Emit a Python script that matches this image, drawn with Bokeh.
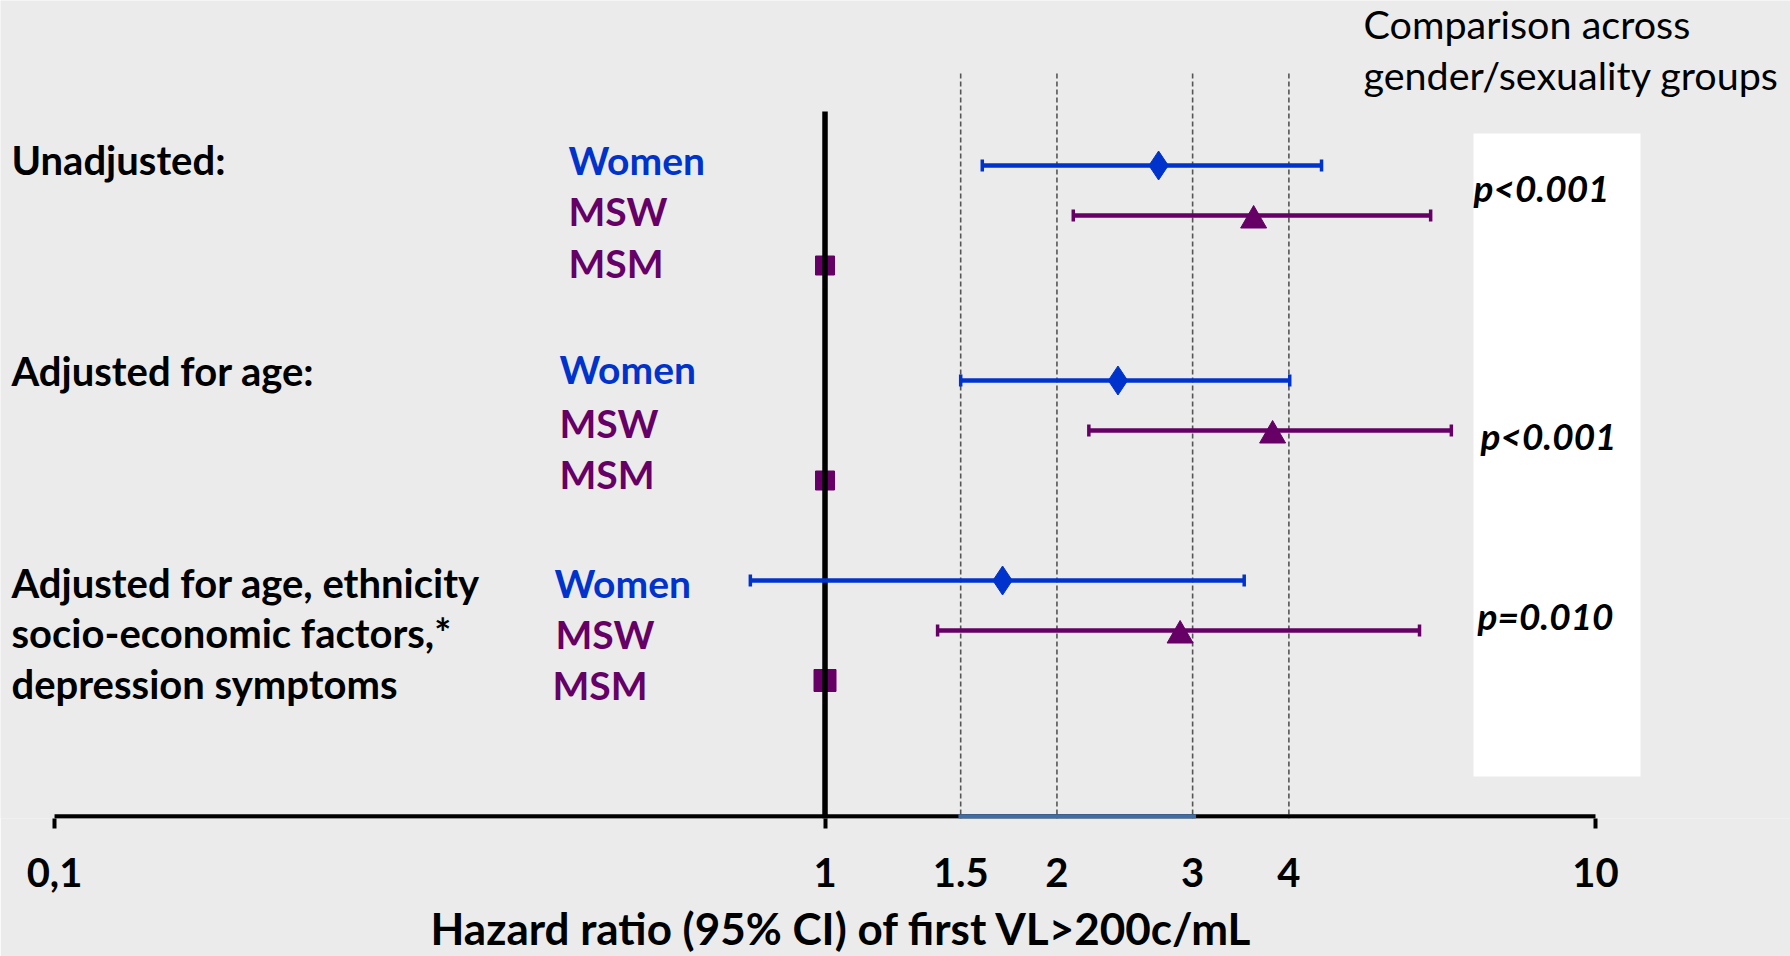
import numpy as np
from bokeh.plotting import figure
from bokeh.models import Range1d, FixedTicker, Label, BoxAnnotation, Title
from bokeh.embed import file_html
from bokeh.resources import INLINE

# ---------------- data ----------------
model_labels = ["Unadjusted:", "Adjusted for age:",
                "Adjusted for age, ethnicity", "socio-economic  factors,*", "depression symptoms"]
group_names = ["Women", "MSW", "MSM"]
women_hr = [2.71, 2.40, 1.70]
women_lo = [1.60, 1.50, 0.80]
women_hi = [4.41, 4.01, 3.50]
msw_hr = [3.60, 3.81, 2.89]
msw_lo = [2.10, 2.20, 1.40]
msw_hi = [6.11, 6.50, 5.91]
msm_hr = [1.0, 1.0, 1.0]          # reference group
p_values = ["p<0.001", "p<0.001", "p=0.010"]
tick_values = [0.1, 1, 1.5, 2, 3, 4, 10]
tick_labels = ["0,1", "1", "1.5", "2", "3", "4", "10"]
end_ticks = [0.1, 1, 10]
reference_lines = [1.5, 2, 3, 4]
highlight = [1.49, 3.03]
header = ["Comparison across", "gender/sexuality groups"]
x_title = "Hazard ratio (95% CI) of first VL>200c/mL"

# ---------------- layout (row positions, styles) ----------------
women_y = [0.0, 4.3, 8.3]
msw_y = [1.0, 5.3, 9.3]
msm_y = [2.0, 6.3, 10.3]
Y_BOTTOM, Y_TOP = 13.06, -3.3
BG = "#ebebeb"
BLUE = "#0033cc"
PURPLE = "#660066"

p = figure(frame_width=1790, frame_height=818, x_axis_type="log",
           x_range=Range1d(0.08509, 17.91), y_range=Range1d(Y_BOTTOM, Y_TOP),
           y_axis_location=None, toolbar_location=None, output_backend="svg",
           min_border=0, min_border_bottom=138,
           background_fill_color=BG, border_fill_color=BG, outline_line_color=None)
p.grid.visible = False

# white panel behind p-values
p.add_layout(BoxAnnotation(left=1473, right=1640, left_units="screen", right_units="screen",
                           top=-0.64, bottom=12.22, fill_color="white", fill_alpha=1.0,
                           line_color=None, level="underlay"))

# dashed reference lines
p.segment(x0=reference_lines, y0=-1.84, x1=reference_lines, y1=Y_BOTTOM,
          line_color="#555555", line_width=1.6, line_dash="5 3")

# reference squares (MSM)
p.scatter(msm_hr, msm_y, marker="square", size=[19, 19, 22], color=PURPLE)

# line of no effect
p.segment(x0=[1], y0=[-1.08], x1=[1], y1=[Y_BOTTOM], line_color="black", line_width=5.5)

# baseline of the axis and highlighted interval
p.segment(x0=[tick_values[0]], y0=[13.02], x1=[tick_values[-1]], y1=[13.02],
          line_color="black", line_width=4.5)
p.segment(x0=[highlight[0]], y0=[13.02], x1=[highlight[1]], y1=[13.02],
          line_color="#3f6ea6", line_width=4.5)

# confidence intervals
p.segment(x0=women_lo, y0=women_y, x1=women_hi, y1=women_y, line_color=BLUE, line_width=4.5)
p.scatter(women_lo + women_hi, women_y + women_y, marker="dash", angle=np.pi / 2,
          size=12, line_width=3.5, line_color=BLUE)
p.segment(x0=msw_lo, y0=msw_y, x1=msw_hi, y1=msw_y, line_color=PURPLE, line_width=4.5)
p.scatter(msw_lo + msw_hi, msw_y + msw_y, marker="dash", angle=np.pi / 2,
          size=12, line_width=3.5, line_color=PURPLE)

# point estimates
p.scatter(women_hr, women_y, marker="diamond", size=29, color=BLUE)
p.scatter(msw_hr, [y + 0.1 for y in msw_y], marker="triangle", size=26, color=PURPLE)

# x axis
ax = p.xaxis[0]
ax.ticker = FixedTicker(ticks=tick_values, minor_ticks=end_ticks)
ax.major_label_overrides = dict(zip(tick_values, tick_labels))
ax.axis_line_color = None
ax.major_tick_line_color = None
ax.major_tick_out = 0
ax.major_tick_in = 0
ax.minor_tick_line_color = "black"
ax.minor_tick_line_width = 4
ax.minor_tick_out = 10
ax.minor_tick_in = 0
ax.major_label_standoff = 29
ax.major_label_text_font = "Lato"
ax.major_label_text_font_style = "bold"
ax.major_label_text_font_size = "40px"
ax.major_label_text_color = "black"

# axis title below the axis, left-offset so it sits under the 0.1–10 span as in the original
p.add_layout(Title(text=x_title, align="left", offset=430, standoff=20,
                   text_font="Lato", text_font_style="bold", text_font_size="44px",
                   text_color="black"), "below")

# text labels
def add_label(text, x, y, size, color="black", style="bold", align="left"):
    p.add_layout(Label(x=x, y=y, x_units="screen", y_units="data", text=text,
                       text_font="Lato", text_font_style=style, text_font_size=size,
                       text_color=color, text_baseline="alphabetic", text_align=align))

model_y = [-0.12, 4.10, 8.34, 9.34, 10.37]
for t, y in zip(model_labels, model_y):
    add_label(t, 11, y, "40px")

name_x = [568, 568, 568, 559, 559, 559, 554, 555, 552]
name_y = [-0.11, 0.90, 1.94, 4.075, 5.14, 6.16, 8.34, 9.36, 10.38]
for i in range(9):
    name = group_names[i % 3]
    add_label(name, name_x[i], name_y[i], "39px", BLUE if name == "Women" else PURPLE)

pv_x = [1473, 1480, 1477]
pv_y = [0.434, 5.39, 8.99]
for t, x, y in zip(p_values, pv_x, pv_y):
    add_label(t, x, y, "37px", style="bold italic")

add_label(header[0], 1363, -2.85, "39.5px", style="normal")
add_label(header[1], 1363, -1.83, "39.5px", style="normal")

open("out.html", "w").write(file_html(p, INLINE))
